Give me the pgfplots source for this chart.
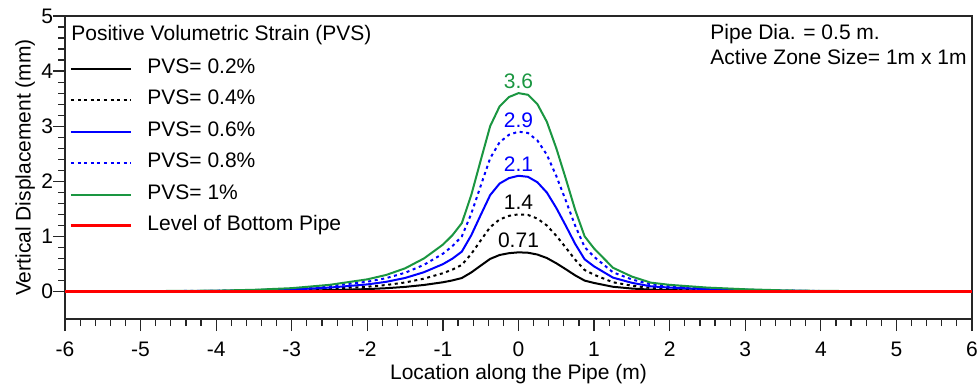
\documentclass[border=0pt]{standalone}
\usepackage{fontspec}
\setmainfont{Liberation Sans}
\usepackage{pgfplots}
\pgfplotsset{compat=1.18}
\usepackage{pgfplotstable}
\usetikzlibrary{calc}
\definecolor{pgreen}{RGB}{26,150,65}
\definecolor{pblue}{RGB}{0,0,255}
\definecolor{pred}{RGB}{255,0,0}

\pgfplotstableread{
x      a      b      c      d      e
-6     0      0      0      0      0
-5     0.001  0.002  0.003  0.004  0.005
-4     0.003  0.006  0.009  0.012  0.015
-3.5   0.006  0.012  0.017  0.024  0.03
-3     0.012  0.023  0.035  0.048  0.06
-2.5   0.024  0.047  0.070  0.097  0.12
-2     0.043  0.086  0.128  0.177  0.22
-1.75  0.059  0.117  0.175  0.242  0.30
-1.5   0.083  0.163  0.245  0.339  0.42
-1.25  0.118  0.233  0.350  0.484  0.60
-1     0.167  0.331  0.496  0.685  0.85
-0.875 0.200  0.397  0.595  0.822  1.02
-0.75  0.244  0.482  0.723  0.999  1.24
-0.625 0.345  0.681  1.020  1.411  1.75
-0.5   0.469  0.926  1.388  1.918  2.38
-0.375 0.591  1.167  1.749  2.418  3.00
-0.25  0.662  1.307  1.959  2.708  3.36
-0.125 0.695  1.373  2.058  2.845  3.53
0      0.710  1.400  2.100  2.900  3.60
0.125  0.703  1.389  2.081  2.877  3.57
0.25   0.670  1.323  1.982  2.740  3.40
0.375  0.607  1.198  1.796  2.482  3.08
0.5    0.512  1.011  1.516  2.096  2.60
0.625  0.404  0.797  1.195  1.652  2.05
0.75   0.292  0.576  0.863  1.193  1.48
0.875  0.197  0.389  0.583  0.806  1.00
1      0.154  0.303  0.455  0.629  0.78
1.25   0.085  0.167  0.251  0.347  0.43
1.5    0.053  0.105  0.157  0.218  0.27
1.75   0.032  0.062  0.093  0.129  0.16
2      0.024  0.047  0.070  0.097  0.12
2.5    0.014  0.027  0.041  0.056  0.07
3      0.008  0.016  0.023  0.032  0.04
3.5    0.004  0.008  0.012  0.016  0.02
4      0.002  0.004  0.006  0.008  0.01
5      0.001  0.001  0.002  0.002  0.003
6      0      0      0      0      0
}\data

\begin{document}
\begin{tikzpicture}[font=\fontsize{10.5}{12.6}\selectfont]
\begin{axis}[name=ax, scale only axis, width=453.5pt, height=151.5pt,
  xmin=-6, xmax=6, ymin=-0.5, ymax=5,
  xtick={-6,-5,...,6}, ytick={0,1,...,5},
  minor x tick num=4, minor y tick num=4,
  tick align=outside, xtick pos=bottom, ytick pos=left,
  major tick length=6pt, minor tick length=3.5pt,
  /pgf/number format/assume math mode=true,
  axis line style={black!85, line width=0.6pt},
  tick style={black!85, line width=0.6pt},
  xticklabel style={yshift=-2pt},
  yticklabel style={xshift=3.5pt},
  xlabel={Location along the Pipe (m)},
  ylabel={Vertical Displacement (mm)},
  xlabel style={at={(axis description cs:0.5,-0.1815)}, anchor=center},
  ylabel style={at={(axis description cs:-0.044,0.5)}, anchor=center},
  legend cell align=left,
  legend style={draw=none, fill=none, at={(0,1)}, anchor=north west,
    xshift=2pt, yshift=-22pt, inner sep=0pt, row sep=7.2pt, column sep=7.5pt,
    nodes={inner sep=0pt, text height=6.5pt, text depth=2pt}},
  legend image code/.code={\draw[#1] (0pt,0pt) -- (30pt,0pt);},
]
\addplot[black, line width=1pt] table[x=x,y=a]{\data};
\addlegendentry{PVS= 0.2\%}
\addplot[black, line width=1pt, dash pattern=on 1.5pt off 1.8pt] table[x=x,y=b]{\data};
\addlegendentry{PVS= 0.4\%}
\addplot[pblue, line width=1pt] table[x=x,y=c]{\data};
\addlegendentry{PVS= 0.6\%}
\addplot[pblue, line width=1pt, dash pattern=on 1.5pt off 1.8pt] table[x=x,y=d]{\data};
\addlegendentry{PVS= 0.8\%}
\addplot[pgreen, line width=1pt] table[x=x,y=e]{\data};
\addlegendentry{PVS= 1\%}
\addplot[pred, line width=1.5pt] coordinates {(-6,0) (6,0)};
\addlegendentry{Level of Bottom Pipe}

\node[anchor=west, inner sep=0pt, xshift=3pt, yshift=-9.5pt] at (rel axis cs:0,1) {Positive Volumetric Strain (PVS)};
\node[anchor=north east, inner sep=0pt, align=left, xshift=-2.5pt, yshift=-4pt,
  font=\fontsize{10.5}{12.5}\selectfont] at (rel axis cs:1,1) {Pipe Dia. = 0.5 m.\\Active Zone Size= 1m x 1m};

\node[anchor=south, inner sep=0pt, yshift=2pt, text=pgreen] at (axis cs:0,3.6) {3.6};
\node[anchor=south, inner sep=0pt, yshift=2pt, text=pblue] at (axis cs:0,2.9) {2.9};
\node[anchor=south, inner sep=0pt, yshift=2pt, text=pblue] at (axis cs:0,2.1) {2.1};
\node[anchor=south, inner sep=0pt, yshift=2pt, text=black] at (axis cs:0,1.4) {1.4};
\node[anchor=south, inner sep=0pt, yshift=2pt, text=black] at (axis cs:0,0.71) {0.71};
\end{axis}
\pgfresetboundingbox
\path ($(ax.south west)+(-32.5pt,-33.5pt)$) rectangle ($(ax.north east)+(3.5pt,8pt)$);
\end{tikzpicture}
\end{document}
